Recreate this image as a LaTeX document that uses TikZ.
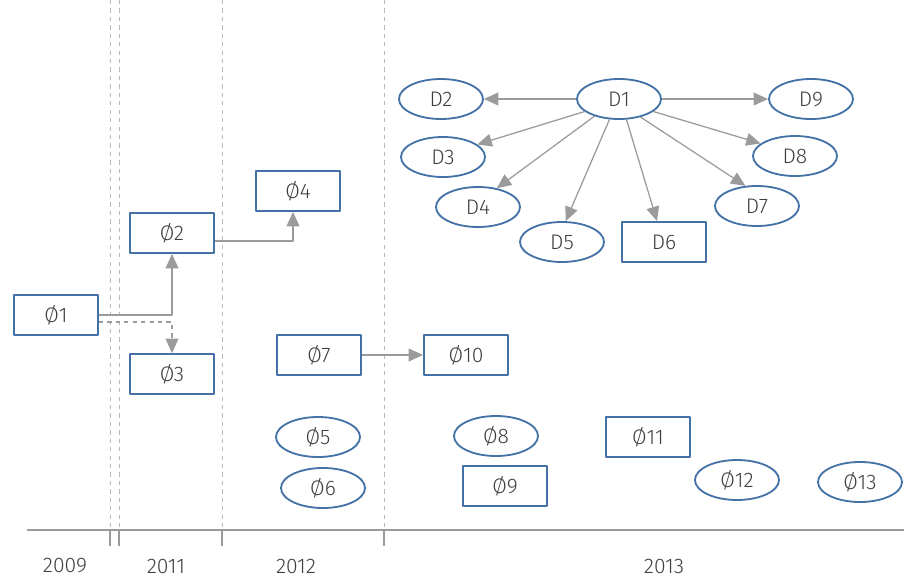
\documentclass[tikz,border=0pt]{standalone}
\usepackage{fontspec}
\setmainfont{Fira Sans}[UprightFont=* Light]
\usetikzlibrary{arrows.meta,shapes.geometric}
\definecolor{frameblue}{HTML}{4471A6}
\definecolor{linegray}{HTML}{9B9B9C}
\definecolor{txtgray}{HTML}{3F3F3F}
\tikzset{
  box/.style={draw=frameblue,line width=1.3pt,minimum width=2.1cm,minimum height=1cm,inner sep=0pt,text=txtgray},
  oval/.style={ellipse,draw=frameblue,line width=1.3pt,minimum width=2.1cm,minimum height=1cm,inner sep=0pt,text=txtgray},
  link/.style={draw=linegray,line width=0.9pt,-{Triangle[length=3.6mm,width=3.2mm]}},
  period/.style={draw=linegray!70,dashed,line width=0.6pt},
}
\begin{document}
\begin{tikzpicture}[x=0.025cm,y=-0.025cm,line join=round,font=\fontsize{15}{17}\selectfont]
            \useasboundingbox (0,0) rectangle (904,579);
            % time axis
            \draw[linegray,line width=0.9pt](27,530)--(904,530);
            \foreach \t in {110,119,222,384}{
              \draw[period](\t,0)--(\t,530);
              \draw[linegray,line width=0.9pt](\t,530)--(\t,546);
            }
            \foreach \yr/\t in {2009/65,2011/166,2012/296,2013/664}
              \node[text=txtgray] (y\yr) at (\t,566) {\yr};
            % left part
            \node[box] (o1) at (56,315) {Ø1};
            \node[box] (o2) at (172,233) {Ø2};
            \node[box] (o3) at (172,374) {Ø3};
            \node[box] (o4) at (298,191) {Ø4};
            \node[box] (o7) at (319,355) {Ø7};
            \node[box] (o10) at (466,355) {Ø10};
            \node[oval] (o5) at (318,437) {Ø5};
            \node[oval] (o6) at (323,488) {Ø6};
            \node[oval] (o8) at (496,436) {Ø8};
            \node[box] (o9) at (505,486) {Ø9};
            \node[box] (o11) at (648,437) {Ø11};
            \node[oval] (o12) at (737,480) {Ø12};
            \node[oval] (o13) at (860,482) {Ø13};
            \draw[link](o1.east|-0,315)-|(o2.south);
            \draw[link,dashed](o1.east|-0,322)-|(o3.north);
            \draw[link](o2.east|-0,241)-|(o4.south-|293,0);
            \draw[link](o7)--(o10);
            % D group
            \node[oval] (d1) at (619,99) {D1};
            \node[oval] (d2) at (441,99) {D2};
            \node[oval] (d3) at (443,157) {D3};
            \node[oval] (d4) at (478,207) {D4};
            \node[oval] (d5) at (562,242) {D5};
            \node[box] (d6) at (664,242) {D6};
            \node[oval] (d7) at (757,206) {D7};
            \node[oval] (d8) at (795,156) {D8};
            \node[oval] (d9) at (811,99) {D9};
            \draw[link](d1)--(d2);
            \draw[link](d1)--(d9);
            \draw[link](d1.200)--(d3.20);
            \draw[link](d1.215)--(d4.45);
            \draw[link](d1.245)--(d5.80);
            \draw[link](d1.290)--(d6.north-|657,0);
            \draw[link](d1.320)--(d7.120);
            \draw[link](d1.340)--(d8.160);
        \end{tikzpicture}
\end{document}
